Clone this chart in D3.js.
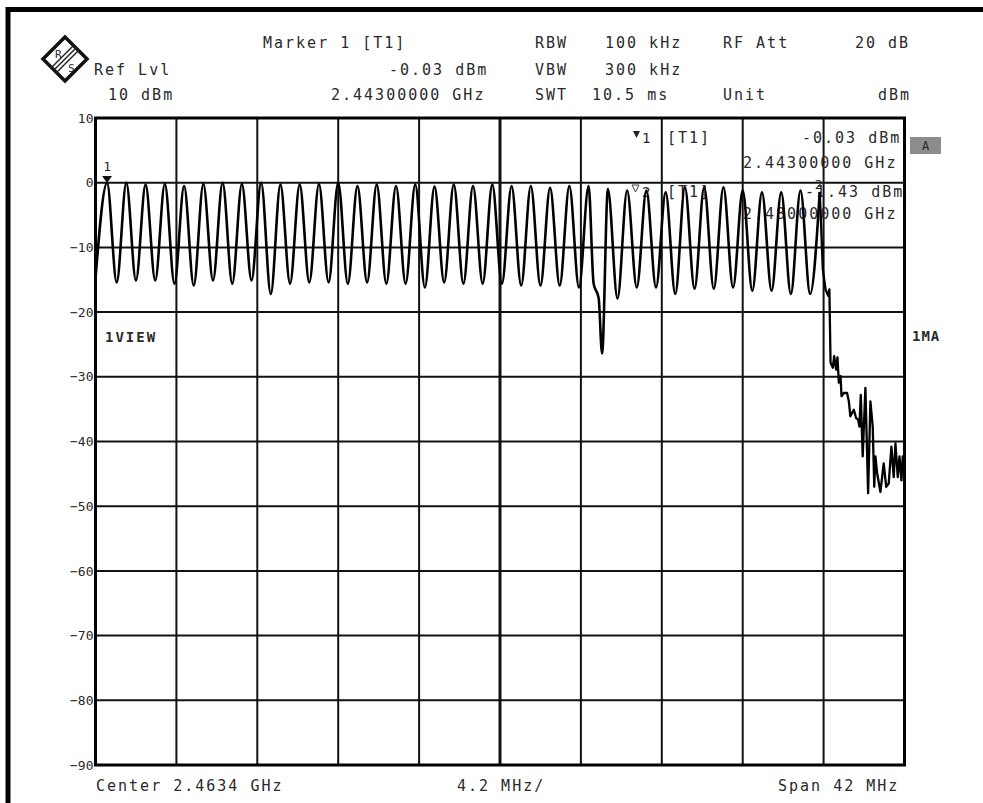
<!DOCTYPE html>
<html>
<head>
<meta charset="utf-8">
<script src="https://cdn.jsdelivr.net/npm/d3@7"></script>
<style>
  body { margin: 0; background: #fff; }
  svg text { font-family: "DejaVu Sans Mono", monospace; fill: #2a2a2a; }
</style>
</head>
<body>
<script>
// channel peaks, MHz and dBm
const peakMHz = [2443, 2444, 2445, 2446, 2447, 2448, 2449, 2450, 2451, 2452,
  2453, 2454, 2455, 2456, 2457, 2458, 2459, 2460, 2461, 2462,
  2463, 2464, 2465, 2466, 2467, 2468, 2469, 2470, 2471, 2472,
  2473, 2474, 2475, 2476, 2477, 2478, 2479, 2480];
const peakDbm = [-0.03, 0.0, -0.3, -0.2, -0.5, -0.2, 0.0, -0.2, 0.0, -0.3,
  -0.3, -0.2, 0.0, -0.5, -0.3, -0.5, -0.3, -0.6, -0.3, -0.5,
  -0.3, -0.5, -0.5, -0.8, -0.5, -0.5, -1.0, -1.2, -1.2, -1.5,
  -0.7, -0.7, -0.7, -1.2, -1.5, -1.5, -1.2, -1.43];

// valleys between channels (plus the dip near 2468.7)
const valleyMHz = [2442.4, 2443.5, 2444.5, 2445.5, 2446.5, 2447.5, 2448.5, 2449.5, 2450.5, 2451.5,
  2452.5, 2453.5, 2454.5, 2455.5, 2456.5, 2457.5, 2458.5, 2459.5, 2460.5, 2461.5,
  2462.5, 2463.5, 2464.5, 2465.5, 2466.5, 2467.5, 2468.26, 2468.52, 2468.7, 2469.5,
  2470.5, 2471.5, 2472.5, 2473.5, 2474.5, 2475.5, 2476.5, 2477.5, 2478.5, 2479.5];
const valleyDbm = [-14.8, -15.4, -15.1, -15.1, -15.6, -15.9, -15.1, -15.6, -15.1, -17.2,
  -15.6, -15.4, -15.4, -15.6, -15.4, -15.6, -15.6, -16.2, -15.4, -15.6,
  -15.6, -15.6, -15.9, -15.9, -15.9, -16.2, -15.6, -17.8, -26.4, -17.9,
  -16.2, -16.2, -17.2, -16.4, -16.4, -16.2, -16.7, -16.7, -17.2, -17.2];

// roll-off above the band
const tailMHz = [2480, 2480.16, 2480.30, 2480.44, 2480.50, 2480.56, 2480.68, 2480.75, 2480.85, 2480.92,
  2480.99, 2481.08, 2481.13, 2481.25, 2481.42, 2481.51, 2481.59, 2481.77, 2481.89, 2481.99,
  2482.06, 2482.13, 2482.23, 2482.37, 2482.51, 2482.63, 2482.75, 2482.83, 2482.89, 2482.98,
  2483.15, 2483.32, 2483.45, 2483.58, 2483.72, 2483.84, 2483.93, 2484.05, 2484.14, 2484.24,
  2484.31, 2484.40];
const tailDbm = [-1.43, -13.4, -16.5, -17.5, -16.5, -27.8, -28.6, -26.8, -28.9, -27.0,
  -30.9, -29.9, -33.0, -32.5, -32.5, -33.8, -36.1, -35.1, -36.4, -36.6,
  -37.7, -32.8, -42.3, -31.7, -48.0, -33.8, -37.7, -47.0, -42.3, -44.9,
  -47.8, -43.4, -47.0, -46.5, -40.8, -45.5, -40.3, -45.5, -42.3, -46.0,
  -42.3, -46.0];

const yTicks = [10, 0, -10, -20, -30, -40, -50, -60, -70, -80, -90];
const xGridMHz = [2446.6, 2450.8, 2455.0, 2459.2, 2463.4, 2467.6, 2471.8, 2476.0, 2480.2];

let plotLeft = 95.5, plotRight = 904.5, plotTop = 118, plotBottom = 765;

let svg = d3.select("body").append("svg")
  .attr("width", 983)
  .attr("height", 803);

let x = d3.scaleLinear().domain([2442.4, 2484.4]).range([plotLeft, plotRight]);
let y = d3.scaleLinear().domain([-90, 10]).range([plotBottom, plotTop]);

// outer frame
svg.append("rect")
  .attr("x", 8).attr("y", 9.5)
  .attr("width", 1100).attr("height", 1000)
  .attr("fill", "none").attr("stroke", "#000").attr("stroke-width", 5);

// logo
let logo = svg.append("g");
logo.append("path")
  .attr("d", "M65,37 L87,59 L65,81 L43,59 Z")
  .attr("fill", "none").attr("stroke", "#111").attr("stroke-width", 3.5);
[-2.5, 0, 2.5].forEach(o => {
  logo.append("line")
    .attr("x1", 77 + o).attr("y1", 47 + o)
    .attr("x2", 53 + o).attr("y2", 71 + o)
    .attr("stroke", "#222").attr("stroke-width", 1.5);
});
logo.append("text").attr("x", 55).attr("y", 58).style("font-size", "11px").text("R");
logo.append("text").attr("x", 68).attr("y", 72).style("font-size", "11px").text("S");

// header
let big = (tx, ty, s) => svg.append("text")
  .attr("x", tx).attr("y", ty)
  .style("font-size", "15px").style("letter-spacing", "2px")
  .text(s);

big(263, 48, "Marker 1 [T1]");
big(535, 48, "RBW");
big(605, 48, "100 kHz");
big(723, 48, "RF Att");
big(855, 48, "20 dB");
big(94, 75, "Ref Lvl");
big(389, 75, "-0.03 dBm");
big(535, 75, "VBW");
big(605, 75, "300 kHz");
big(108, 100, "10 dBm");
big(331, 100, "2.44300000 GHz");
big(535, 100, "SWT");
big(592, 100, "10.5 ms");
big(723, 100, "Unit");
big(878, 100, "dBm");

// grid
svg.append("g")
  .selectAll("line")
  .data(yTicks.slice(1, -1))
  .enter().append("line")
  .attr("x1", plotLeft).attr("x2", plotRight)
  .attr("y1", d => y(d)).attr("y2", d => y(d))
  .attr("stroke", "#111").attr("stroke-width", 2);

svg.append("g")
  .selectAll("line")
  .data(xGridMHz)
  .enter().append("line")
  .attr("x1", d => x(d)).attr("x2", d => x(d))
  .attr("y1", plotTop).attr("y2", plotBottom)
  .attr("stroke", "#111")
  .attr("stroke-width", d => d === 2463.4 ? 3 : 2);

svg.append("rect")
  .attr("x", plotLeft).attr("y", plotTop)
  .attr("width", plotRight - plotLeft).attr("height", plotBottom - plotTop)
  .attr("fill", "none").attr("stroke", "#000").attr("stroke-width", 3);

// y labels
let yAxis = svg.append("g")
  .attr("transform", "translate(" + (plotLeft - 2) + ",0)")
  .call(d3.axisLeft(y).tickValues(yTicks).tickSize(0).tickPadding(0).tickFormat(d3.format("d")));
yAxis.select(".domain").remove();
yAxis.selectAll("text")
  .style("font-family", "DejaVu Sans Mono")
  .style("font-size", "13px")
  .attr("fill", "#2a2a2a");

// marker readout in plot
svg.append("path").attr("d", "M633,131 L640,131 L636.5,138 Z").attr("fill", "#222");
svg.append("text").attr("x", 642).attr("y", 143).style("font-size", "14px").text("1");
big(667, 143, "[T1]");
big(802, 143, "-0.03 dBm");
big(743, 168, "2.44300000 GHz");
svg.append("path").attr("d", "M632,185 L639,185 L635.5,192 Z")
  .attr("fill", "none").attr("stroke", "#444").attr("stroke-width", 1);
svg.append("text").attr("x", 642).attr("y", 197).style("font-size", "14px").text("2");
big(667, 197, "[T1]");
big(805, 197, "-1.43 dBm");
big(743, 219, "2.48000000 GHz");

// side labels
svg.append("text").attr("x", 105).attr("y", 342)
  .style("font-size", "14px").style("font-weight", "bold").style("letter-spacing", "2px")
  .attr("fill", "#111").text("1VIEW");
svg.append("text").attr("x", 912).attr("y", 341)
  .style("font-size", "14px").style("font-weight", "bold").style("letter-spacing", "1px")
  .attr("fill", "#111").text("1MA");
svg.append("rect").attr("x", 910).attr("y", 137).attr("width", 31).attr("height", 17)
  .attr("fill", "#8c8c8c");
svg.append("text").attr("x", 925.5).attr("y", 150).attr("text-anchor", "middle")
  .style("font-size", "12px").attr("fill", "#333").text("A");

// trace
let mainPts = peakMHz.map((f, i) => [f, peakDbm[i]])
  .concat(valleyMHz.map((f, i) => [f, valleyDbm[i]]))
  .sort((a, b) => a[0] - b[0]);
let tailPts = tailMHz.map((f, i) => [f, tailDbm[i]]);

svg.append("path")
  .datum(mainPts)
  .attr("fill", "none").attr("stroke", "#000").attr("stroke-width", 2.6)
  .attr("stroke-linejoin", "round")
  .attr("d", d3.line().x(d => x(d[0])).y(d => y(d[1])).curve(d3.curveMonotoneX));

svg.append("path")
  .datum(tailPts)
  .attr("fill", "none").attr("stroke", "#000").attr("stroke-width", 2.3)
  .attr("stroke-linejoin", "round")
  .attr("d", d3.line().x(d => x(d[0])).y(d => y(d[1])));

// marker symbols on trace
svg.append("path")
  .attr("d", "M" + (x(2443) - 5) + "," + (y(-0.03) - 7) + " L" + (x(2443) + 5) + "," + (y(-0.03) - 7) + " L" + x(2443) + "," + y(-0.03) + " Z")
  .attr("fill", "#111");
svg.append("text").attr("x", x(2443)).attr("y", y(-0.03) - 12).attr("text-anchor", "middle")
  .style("font-size", "13px").text("1");
svg.append("text").attr("x", x(2480) - 1).attr("y", y(-1.43) - 3).attr("text-anchor", "middle")
  .style("font-size", "13px").text("2");

// footer
big(96, 791, "Center 2.4634 GHz");
big(457, 791, "4.2 MHz/");
big(778, 791, "Span 42 MHz");
</script>
</body>
</html>
